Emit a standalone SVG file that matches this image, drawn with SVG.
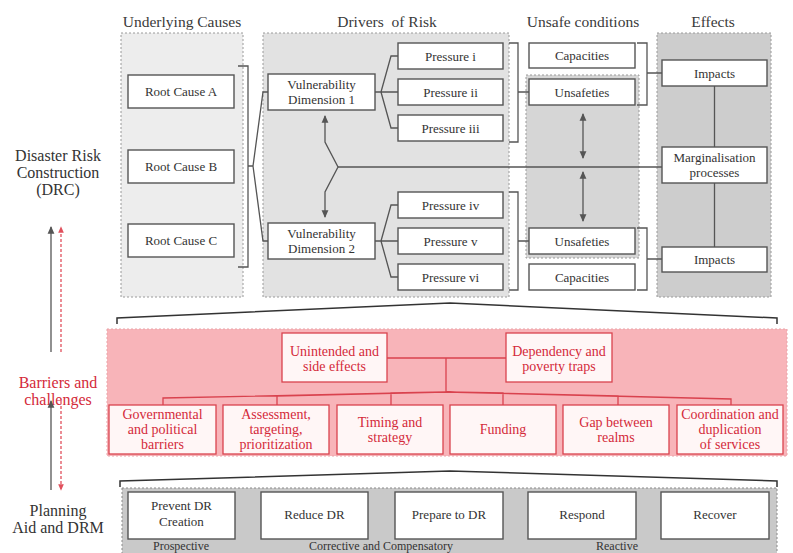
<svg xmlns="http://www.w3.org/2000/svg" width="793" height="553" viewBox="0 0 793 553">
  <defs>
    <style>
      .t { font-family: "Liberation Serif", "Times New Roman", serif; fill: #333; text-anchor: middle; }
      .h { font-size: 15.5px; fill: #3a3a3a; }
      .n { font-size: 13px; }
      .side { font-size: 16px; }
      .red { fill: #d42a3a; }
      .pt { font-size: 14px; fill: #d42a3a; }
      .panel { stroke: #9a9a9a; stroke-width: 1; stroke-dasharray: 2 2; }
      .box { fill: #fff; stroke: #555; stroke-width: 1.4; }
      .pbox { fill: #fff6f6; stroke: #d9424e; stroke-width: 1.3; }
      .ln { fill: none; stroke: #555; stroke-width: 1.3; }
      .pl { fill: none; stroke: #d9424e; stroke-width: 1.3; }
      .brace { fill: none; stroke: #333; stroke-width: 1.5; }
    </style>
    <marker id="ah" viewBox="0 0 8 8" refX="7" refY="4" markerWidth="6" markerHeight="6" orient="auto-start-reverse">
      <path d="M0,0.5 L8,4 L0,7.5 z" fill="#555"/>
    </marker>
    <marker id="ahr" viewBox="0 0 8 8" refX="7" refY="4" markerWidth="5" markerHeight="5" orient="auto-start-reverse">
      <path d="M0,0.5 L8,4 L0,7.5 z" fill="#e0505c"/>
    </marker>
  </defs>

  <!-- column headers -->
  <g id="headers" class="t h">
    <text x="182" y="27">Underlying Causes</text>
    <text x="387" y="27" xml:space="preserve">Drivers  of Risk</text>
    <text x="583" y="27">Unsafe conditions</text>
    <text x="713" y="27">Effects</text>
  </g>

  <!-- background panels -->
  <g id="panels">
    <rect class="panel" x="121" y="33" width="122" height="264" fill="#ededed"/>
    <rect class="panel" x="263" y="33" width="246" height="264" fill="#e2e2e2"/>
    <rect class="panel" x="526" y="75" width="113" height="183" fill="#d6d6d6"/>
    <rect class="panel" x="657" y="33" width="114" height="264" fill="#cdcdcd"/>
  </g>

  <!-- side labels and vertical arrows -->
  <g id="side">
    <text class="t side" x="58" y="161">Disaster Risk</text>
    <text class="t side" x="58" y="178">Construction</text>
    <text class="t side" x="58" y="195">(DRC)</text>
    <text class="t side red" x="58" y="388">Barriers and</text>
    <text class="t side red" x="58" y="405">challenges</text>
    <text class="t side" x="58" y="516">Planning</text>
    <text class="t side" x="58" y="533">Aid and DRM</text>
    <path class="ln" d="M51,352 V227" stroke="#666" stroke-width="1.6" marker-end="url(#ah)"/>
    <path d="M61,352 V227" fill="none" stroke="#e0505c" stroke-width="1.3" stroke-dasharray="3 2" marker-end="url(#ahr)"/>
    <path class="ln" d="M51,490 V401" stroke="#666" stroke-width="1.6" marker-end="url(#ah)"/>
    <path d="M61,401 V490" fill="none" stroke="#e0505c" stroke-width="1.3" stroke-dasharray="3 2" marker-end="url(#ahr)"/>
  </g>

  <!-- connectors -->
  <g id="connectors">
    <path class="ln" d="M238,66 H248 V267 H238 M248,166 H253 L263,92 H268 M253,166 L263,241 H268"/>
    <path class="ln" d="M375,92 H381 L391,56 H398 M381,92 H398 M381,92 L391,128 H398"/>
    <path class="ln" d="M375,241 H381 L391,205 H398 M381,241 H398 M381,241 L391,277 H398"/>
    <path class="ln" d="M338,167 H662"/>
    <path class="ln" d="M325,116 V142 L338,167 L325,192 V217" marker-start="url(#ah)" marker-end="url(#ah)"/>
    <path class="ln" d="M509,43 H518 V142 H509 M518,92 H529"/>
    <path class="ln" d="M509,192 H518 V290 H509 M518,241 H529"/>
    <path class="ln" d="M637,43 H647 V105 H637 M647,73 H662"/>
    <path class="ln" d="M637,228 H647 V290 H637 M647,259 H662"/>
    <path class="ln" d="M714.5,86 V147 M714.5,183 V247"/>
    <path class="ln" d="M583,114 V158" marker-start="url(#ah)" marker-end="url(#ah)"/>
    <path class="ln" d="M583,172 V221" marker-start="url(#ah)" marker-end="url(#ah)"/>
    <path class="brace" d="M117,324 V318 L450,303 L777,318 V324"/>
    <path class="brace" d="M120,487 V481 L450,471 L777,481 V487"/>
  </g>

  <!-- underlying causes -->
  <g id="root-a"><rect class="box" x="128" y="75" width="106" height="33"/><text class="t n" x="181" y="96">Root Cause A</text></g>
  <g id="root-b"><rect class="box" x="128" y="150" width="106" height="33"/><text class="t n" x="181" y="171">Root Cause B</text></g>
  <g id="root-c"><rect class="box" x="128" y="224" width="106" height="33"/><text class="t n" x="181" y="245">Root Cause C</text></g>

  <!-- vulnerability dimensions -->
  <g id="vd-1"><rect class="box" x="268" y="74" width="107" height="36"/><text class="t n" x="321.5" y="89">Vulnerability</text><text class="t n" x="321.5" y="104">Dimension 1</text></g>
  <g id="vd-2"><rect class="box" x="268" y="223" width="107" height="36"/><text class="t n" x="321.5" y="238">Vulnerability</text><text class="t n" x="321.5" y="253">Dimension 2</text></g>

  <!-- pressures -->
  <g id="pressure-i"><rect class="box" x="398" y="43" width="105" height="26"/><text class="t n" x="450.5" y="60.5">Pressure i</text></g>
  <g id="pressure-ii"><rect class="box" x="398" y="79" width="105" height="26"/><text class="t n" x="450.5" y="96.5">Pressure ii</text></g>
  <g id="pressure-iii"><rect class="box" x="398" y="115" width="105" height="26"/><text class="t n" x="450.5" y="132.5">Pressure iii</text></g>
  <g id="pressure-iv"><rect class="box" x="398" y="192" width="105" height="26"/><text class="t n" x="450.5" y="209.5">Pressure iv</text></g>
  <g id="pressure-v"><rect class="box" x="398" y="228" width="105" height="26"/><text class="t n" x="450.5" y="245.5">Pressure v</text></g>
  <g id="pressure-vi"><rect class="box" x="398" y="264" width="105" height="26"/><text class="t n" x="450.5" y="281.5">Pressure vi</text></g>

  <!-- unsafe conditions -->
  <g id="capacities-1"><rect class="box" x="529" y="43" width="106" height="25"/><text class="t n" x="582" y="60">Capacities</text></g>
  <g id="unsafeties-1"><rect class="box" x="529" y="79" width="106" height="26"/><text class="t n" x="582" y="96.5">Unsafeties</text></g>
  <g id="unsafeties-2"><rect class="box" x="529" y="228" width="106" height="26"/><text class="t n" x="582" y="245.5">Unsafeties</text></g>
  <g id="capacities-2"><rect class="box" x="529" y="264" width="106" height="26"/><text class="t n" x="582" y="281.5">Capacities</text></g>

  <!-- effects -->
  <g id="impacts-1"><rect class="box" x="662" y="60" width="105" height="26"/><text class="t n" x="714.5" y="77.5">Impacts</text></g>
  <g id="marginalisation"><rect class="box" x="662" y="147" width="105" height="36"/><text class="t n" x="714.5" y="162">Marginalisation</text><text class="t n" x="714.5" y="177">processes</text></g>
  <g id="impacts-2"><rect class="box" x="662" y="247" width="105" height="25"/><text class="t n" x="714.5" y="264">Impacts</text></g>

  <!-- barriers and challenges -->
  <g id="barriers">
    <rect x="107" y="329" width="680" height="127" fill="#f8b4b9" stroke="#e9a3a8" stroke-width="1" stroke-dasharray="2 2"/>
    <g id="barrier-links">
      <path class="pl" d="M387,358 H506 M446,358 V392"/>
      <path class="pl" d="M446,392 L163,398 V405 M446,392 L277,396 V405 M446,392 L391,393 V405 M446,392 L503,393 V405 M446,392 L618,396 V405 M446,392 L731,399 V405"/>
    </g>
    <g id="unintended"><rect class="pbox" x="282" y="333" width="105" height="49"/><text class="t pt" x="334.5" y="356">Unintended and</text><text class="t pt" x="334.5" y="371">side effects</text></g>
    <g id="dependency"><rect class="pbox" x="506" y="333" width="106" height="49"/><text class="t pt" x="559" y="356">Dependency and</text><text class="t pt" x="559" y="371">poverty traps</text></g>
    <g id="governmental"><rect class="pbox" x="109" y="405" width="107" height="49"/><text class="t pt" x="162.5" y="419">Governmental</text><text class="t pt" x="162.5" y="434">and political</text><text class="t pt" x="162.5" y="449">barriers</text></g>
    <g id="assessment"><rect class="pbox" x="223" y="405" width="106" height="49"/><text class="t pt" x="276" y="419">Assessment,</text><text class="t pt" x="276" y="434">targeting,</text><text class="t pt" x="276" y="449">prioritization</text></g>
    <g id="timing"><rect class="pbox" x="337" y="405" width="106" height="49"/><text class="t pt" x="390" y="427">Timing and</text><text class="t pt" x="390" y="442">strategy</text></g>
    <g id="funding"><rect class="pbox" x="450" y="405" width="106" height="49"/><text class="t pt" x="503" y="434">Funding</text></g>
    <g id="gap"><rect class="pbox" x="563" y="405" width="106" height="49"/><text class="t pt" x="616" y="427">Gap between</text><text class="t pt" x="616" y="442">realms</text></g>
    <g id="coordination"><rect class="pbox" x="677" y="405" width="106" height="49"/><text class="t pt" x="730" y="419">Coordination and</text><text class="t pt" x="730" y="434">duplication</text><text class="t pt" x="730" y="449">of services</text></g>
  </g>

  <!-- planning, aid and DRM -->
  <g id="drm">
    <rect x="122" y="488" width="655" height="70" fill="#c9c9c9" stroke="#8a8a8a" stroke-width="1" stroke-dasharray="2 2"/>
    <g id="prevent"><rect class="box" x="128" y="492" width="107" height="47"/><text class="t n" x="181.5" y="510">Prevent DR</text><text class="t n" x="181.5" y="526">Creation</text></g>
    <g id="reduce"><rect class="box" x="261" y="492" width="107" height="47"/><text class="t n" x="314.5" y="519">Reduce DR</text></g>
    <g id="prepare"><rect class="box" x="395" y="492" width="108" height="47"/><text class="t n" x="449" y="519">Prepare to DR</text></g>
    <g id="respond"><rect class="box" x="528" y="492" width="108" height="47"/><text class="t n" x="582" y="519">Respond</text></g>
    <g id="recover"><rect class="box" x="661" y="492" width="108" height="47"/><text class="t n" x="715" y="519">Recover</text></g>
    <g class="t" font-size="12">
      <text x="181" y="550">Prospective</text>
      <text x="381" y="550">Corrective and Compensatory</text>
      <text x="617" y="550">Reactive</text>
    </g>
  </g>
</svg>
